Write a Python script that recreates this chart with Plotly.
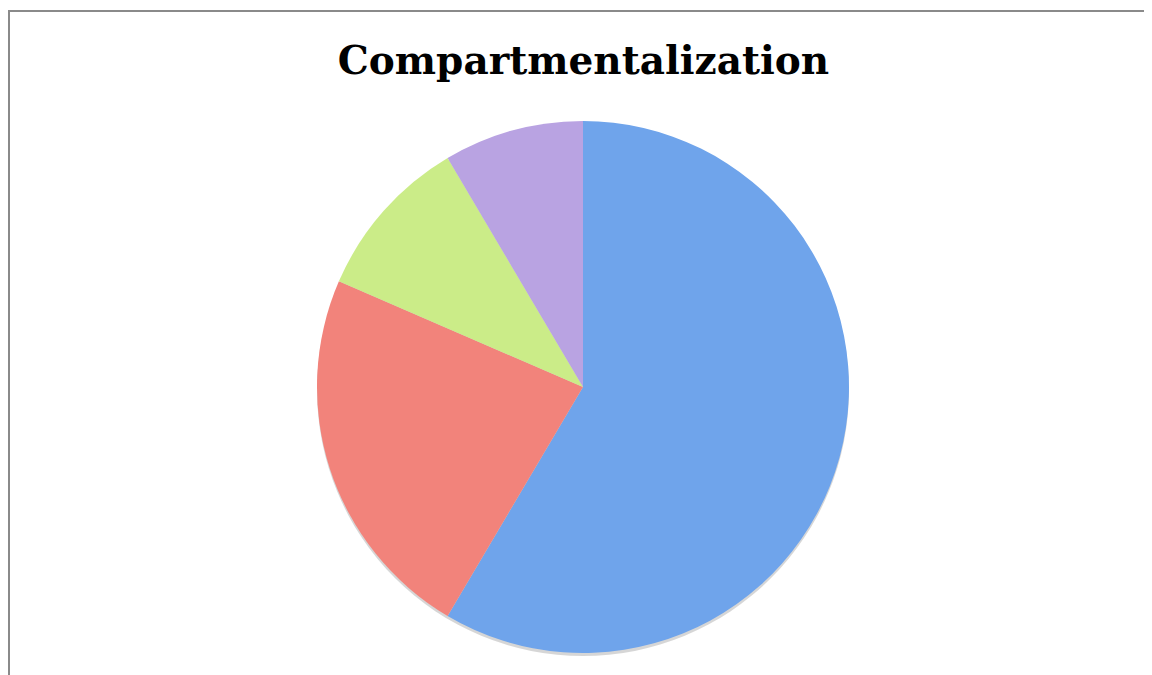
import plotly.graph_objects as go

labels = ["Series 1", "Series 2", "Series 3", "Series 4"]
values = [58.5, 23.0, 10.0, 8.5]
colors = ["#6fa4eb", "#f2837b", "#cbec88", "#b9a3e2"]

W, H = 1152, 675
# page has an 8px body margin, so figure coords = page coords - 8
SH = 3  # shadow offset px
ml, mr, mt, mb = 42, 44, 113, 27
pw = W - ml - mr
ph = H - mt - mb

fig = go.Figure()
# soft drop shadow
fig.add_trace(go.Pie(
    values=[sum(values)], labels=["shadow"], sort=False,
    marker=dict(colors=["rgba(0,0,0,0.16)"], line=dict(width=0)),
    textinfo="none", hoverinfo="skip", showlegend=False,
    domain=dict(x=[0, 1], y=[0, (ph - SH) / ph]),
))
fig.add_trace(go.Pie(
    labels=labels,
    values=values,
    sort=False,
    direction="clockwise",
    rotation=0,
    marker=dict(colors=colors, line=dict(width=0)),
    textinfo="none",
    hoverinfo="label+value",
    showlegend=False,
    domain=dict(x=[0, 1], y=[SH / ph, 1]),
))

def px_x(x):
    return (x - ml) / pw
def px_y(y):
    return (H - mb - y) / ph

border = dict(color="#8a8a8a", width=2)
fig.add_shape(type="line", xref="paper", yref="paper",
              x0=px_x(1), x1=px_x(1), y0=px_y(720), y1=px_y(2), line=border, layer="above")
fig.add_shape(type="line", xref="paper", yref="paper",
              x0=px_x(0), x1=px_x(1300), y0=px_y(3), y1=px_y(3), line=border, layer="above")

fig.update_layout(
    width=W, height=H,
    margin=dict(l=ml, r=mr, t=mt, b=mb),
    paper_bgcolor="white", plot_bgcolor="white",
    title=dict(text="<b>Compartmentalization</b>", x=575.5 / W, xanchor="center",
               y=1 - 52 / H, yanchor="middle", yref="container",
               font=dict(family="DejaVu Serif", size=39, color="black")),
)

fig.write_html("out.html")
